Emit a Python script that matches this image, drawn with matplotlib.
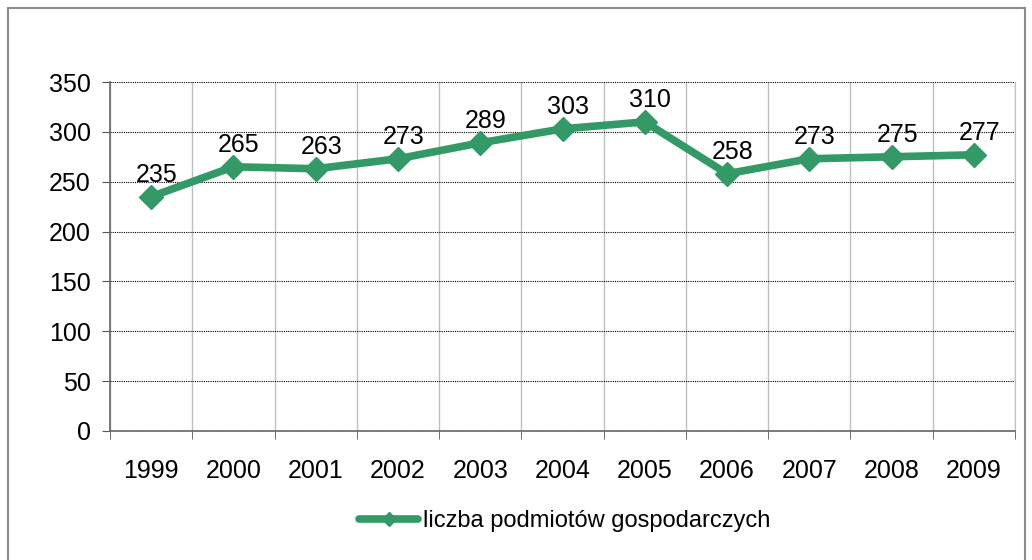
import matplotlib
matplotlib.use("Agg")
import matplotlib.pyplot as plt
import numpy as np

years = ["1999", "2000", "2001", "2002", "2003", "2004", "2005", "2006", "2007", "2008", "2009"]
values = [235, 265, 263, 273, 289, 303, 310, 258, 273, 275, 277]
series_name = "liczba podmiotów gospodarczych"

plt.rcParams["font.family"] = ["Liberation Sans", "DejaVu Sans"]
green = "#339966"

fig = plt.figure(figsize=(10.32, 5.6), dpi=100)
# outer chart border
fig.patches.append(plt.Rectangle((8 / 1032, -0.01), 1017 / 1032, (560 - 8) / 560 + 0.01,
                                 transform=fig.transFigure, fill=False,
                                 edgecolor="#8c8c8c", linewidth=1.5))

ax = fig.add_axes([110 / 1032, 129 / 560, 905 / 1032, 349 / 560])
x = np.arange(len(years))
ax.plot(x, values, color=green, linewidth=5.5, marker="D", markersize=12,
        label=series_name, solid_capstyle="round")

for xi, v in zip(x, values):
    ax.annotate(str(v), (xi, v), xytext=(4, 7), textcoords="offset points",
                ha="center", va="bottom", fontsize=18)

ax.set_xlim(-0.5, len(years) - 0.5)
ax.set_ylim(0, 350)
ax.set_yticks(np.arange(0, 351, 50))
ax.set_xticks(x)
ax.set_xticklabels(years)
ax.set_xticks(np.arange(-0.5, len(years), 1), minor=True)

ax.grid(axis="y", color="black", linestyle=(0, (1, 1)), linewidth=0.8)
ax.grid(axis="x", which="minor", color="#bfbfbf", linestyle="-", linewidth=1)
ax.set_axisbelow(True)

ax.tick_params(axis="x", which="major", length=0, labelsize=18, pad=20)
ax.tick_params(axis="x", which="minor", length=6, color="#555555", direction="out")
ax.tick_params(axis="y", length=6, color="#555555", labelsize=18, pad=8)

ax.spines["top"].set_visible(False)
ax.spines["right"].set_color("#bfbfbf")
ax.spines["left"].set_color("#666666")
ax.spines["bottom"].set_color("#666666")
for s in ["left", "bottom"]:
    ax.spines[s].set_linewidth(1.2)

fig.legend(loc="center", bbox_to_anchor=(565 / 1032, 1 - 521 / 560), frameon=False,
           fontsize=17, handlelength=2.5, handletextpad=0.2, markerscale=0.6)

fig.savefig("out.png", dpi=100)
